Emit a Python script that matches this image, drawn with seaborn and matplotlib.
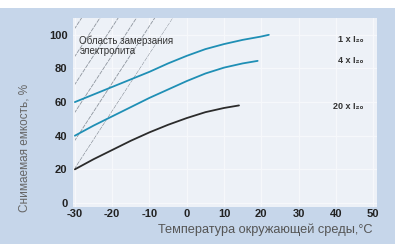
import numpy as np
import pandas as pd
import matplotlib
matplotlib.use("Agg")
import matplotlib.pyplot as plt
from matplotlib.patches import Polygon, Rectangle
import seaborn as sns

# ── Data ──────────────────────────────────────────────────────────────
temp_1x  = [-30, -25, -20, -15, -10, -5, 0, 5, 10, 15, 20, 22]
cap_1x   = [60, 64.5, 69, 73.5, 78, 83, 87.5, 91.5, 94.5, 97, 99, 100]
temp_4x  = [-30, -25, -20, -15, -10, -5, 0, 5, 10, 15, 19]
cap_4x   = [40, 46, 51.5, 57, 62.5, 67.5, 72.5, 77, 80.5, 83, 84.5]
temp_20x = [-30, -25, -20, -15, -10, -5, 0, 5, 10, 14]
cap_20x  = [20, 26, 31.5, 37, 42, 46.5, 50.5, 54, 56.5, 58]

series_labels = ["1 x I\u2082\u2080", "4 x I\u2082\u2080", "20 x I\u2082\u2080"]
label_y       = [97, 85, 57.5]

# boundary of the electrolyte freezing zone (hatched)
freeze_x = [-30, -30, -3.7]
freeze_y = [20, 110, 110]

x_ticks = [-30, -20, -10, 0, 10, 20, 30, 40, 50]
y_ticks = [0, 20, 40, 60, 80, 100]

PANEL_BG = "#c6d6ea"
PLOT_BG  = "#edf1f7"
TEAL     = "#1f8fb5"
DARK     = "#2b2b2b"
TEXT     = "#333333"

sns.set_theme(style="darkgrid", rc={
    "axes.facecolor": PLOT_BG,
    "grid.color": "#f6f8fb",
    "grid.linewidth": 0.9,
    "axes.unicode_minus": False,
})
plt.rcParams["font.family"] = ["Liberation Sans", "DejaVu Sans"]

df = pd.concat([
    pd.DataFrame({"t": temp_1x,  "c": cap_1x,  "s": series_labels[0]}),
    pd.DataFrame({"t": temp_4x,  "c": cap_4x,  "s": series_labels[1]}),
    pd.DataFrame({"t": temp_20x, "c": cap_20x, "s": series_labels[2]}),
])
palette = dict(zip(series_labels, [TEAL, TEAL, DARK]))

fig = plt.figure(figsize=(4.01, 2.44), dpi=100, facecolor="white")
fig.patches.append(Rectangle((0, 0), 395 / 401, 236 / 244,
                             transform=fig.transFigure,
                             facecolor=PANEL_BG, edgecolor="none", zorder=-10))
ax = fig.add_axes([73 / 401, 37 / 244, 304 / 401, 189 / 244])

sns.lineplot(data=df, x="t", y="c", hue="s", palette=palette,
             linewidth=1.3, legend=False, ax=ax, zorder=3)

# hatching of the freezing zone
zone = Polygon(np.column_stack([freeze_x, freeze_y]), closed=True,
               facecolor="none", edgecolor="none")
ax.add_patch(zone)
slope = 3.4
xx = np.array([-40, 10])
for top_x in np.arange(freeze_x[2], -45, -4.9):
    ln, = ax.plot(xx, freeze_y[1] + slope * (xx - top_x),
                  color="#8e959e", lw=0.6, dashes=(5, 1.2), zorder=2)
    ln.set_clip_path(zone)

ax.text(-28.8, 99.5, "Область замерзания\nэлектролита", fontsize=7,
        color=TEXT, va="top", ha="left", linespacing=0.95, zorder=4)

for lab, y in zip(series_labels, label_y):
    ax.text(47.3, y, lab, fontsize=6.5, color=TEXT, ha="right",
            va="center", fontweight="bold",
            family=["Liberation Sans", "DejaVu Sans"])

ax.set_xlim(-30.5, 51)
ax.set_ylim(-2.4, 110)
ax.set_xticks(x_ticks)
ax.set_yticks(y_ticks)
ax.tick_params(axis="both", length=0, labelsize=8, colors="#222222")
ax.tick_params(axis="y", pad=4)
ax.tick_params(axis="x", pad=1.5)
for lbl in ax.get_xticklabels() + ax.get_yticklabels():
    lbl.set_fontweight("bold")
ax.set_xlabel("")
ax.set_ylabel("")
for sp in ax.spines.values():
    sp.set_visible(False)

fig.text(373 / 401, 1 - 230 / 244, "Температура окружающей среды,°C",
         fontsize=9.2, color="#555555", ha="right", va="center")
fig.text(25 / 401, 1 - 148 / 244, "Снимаемая емкость, %", fontsize=8.5,
         color="#666666", rotation=90, ha="center", va="center")

fig.savefig("out.png", dpi=100, facecolor=fig.get_facecolor())
